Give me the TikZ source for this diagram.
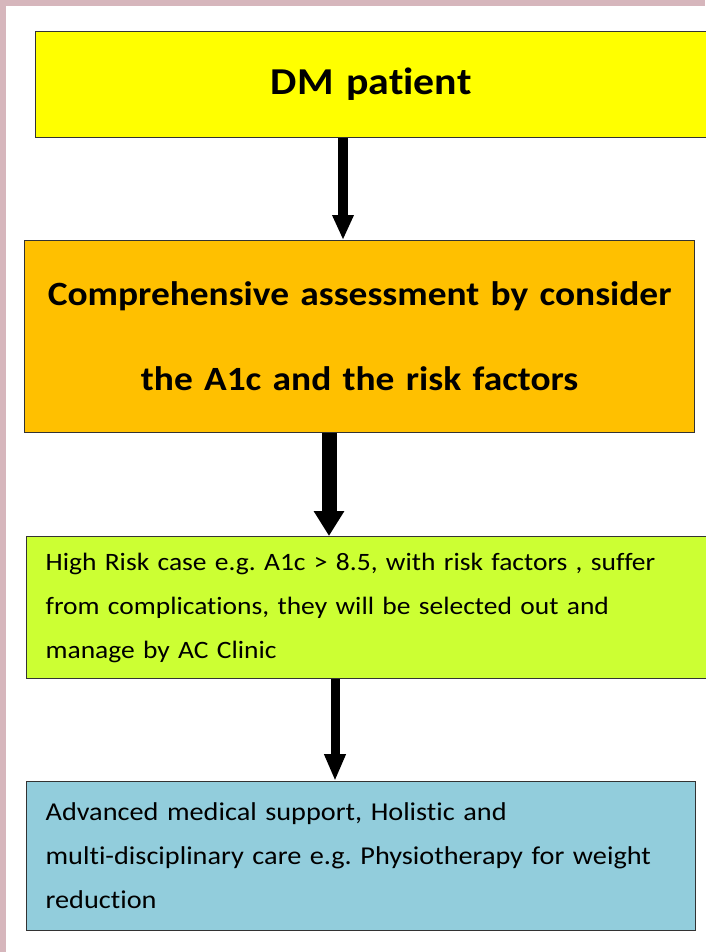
\documentclass[tikz,border=0pt]{standalone}
\usepackage{fontspec}
\setmainfont{Carlito}[FakeStretch=1.1, Ligatures=NoCommon]
\frenchspacing
\usetikzlibrary{arrows.meta}
\definecolor{pinkbg}{RGB}{214,182,188}
\definecolor{yel}{RGB}{255,255,0}
\definecolor{org}{RGB}{255,192,0}
\definecolor{grn}{RGB}{204,255,51}
\definecolor{blu}{RGB}{146,205,220}
\tikzset{
  box/.style={draw=black!80, line width=1.3pt, anchor=north west, inner ysep=0pt},
  arrA/.style={line width=10pt, -{Triangle[width=20pt,length=25pt]}},
  arrB/.style={line width=15pt, -{Triangle[width=29pt,length=25pt]}},
  arrC/.style={line width=9pt, -{Triangle[width=20pt,length=27pt]}},
}
\begin{document}
\begin{tikzpicture}[x=1pt,y=-1pt]
\useasboundingbox (0,0) rectangle (705,952);
\fill[pinkbg] (0,0) rectangle (705,952);
\fill[white] (6,6) rectangle (705,952);

\node[box, fill=yel, text width=671pt, inner xsep=0pt, minimum height=106pt, align=center,
      font=\fontsize{38}{44}\selectfont\bfseries] (b1) at (35,31) {DM patient};

\node[box, fill=org, text width=670pt, inner xsep=0pt, minimum height=192pt, align=center,
      font=\fontsize{34}{85}\selectfont\bfseries] (b2) at (24,240)
  {Comprehensive assessment by consider\\the A1c and the risk factors};

\node[box, fill=grn, text width=644pt, inner xsep=19pt, minimum height=142pt, align=left,
      font=\fontsize{25}{44}\selectfont] (b3) at (26,536)
  {High Risk case e.g. A1c > 8.5, with risk factors , suffer\\from complications, they will be selected out and\\manage by AC Clinic};

\node[box, fill=blu, text width=631pt, inner xsep=19pt, minimum height=149pt, align=left,
      font=\fontsize{25.7}{44}\selectfont] (b4) at (26,781)
  {Advanced medical support, Holistic and\\multi-disciplinary care e.g. Physiotherapy for weight\\reduction};

\coordinate (x1) at (343,0);
\coordinate (x2) at (329,0);
\coordinate (x3) at (335,0);
\draw[arrA] (b1.south -| x1) -- (b2.north -| x1);
\draw[arrB] (b2.south -| x2) -- (b3.north -| x2);
\draw[arrC] (b3.south -| x3) -- (b4.north -| x3);
\end{tikzpicture}
\end{document}
